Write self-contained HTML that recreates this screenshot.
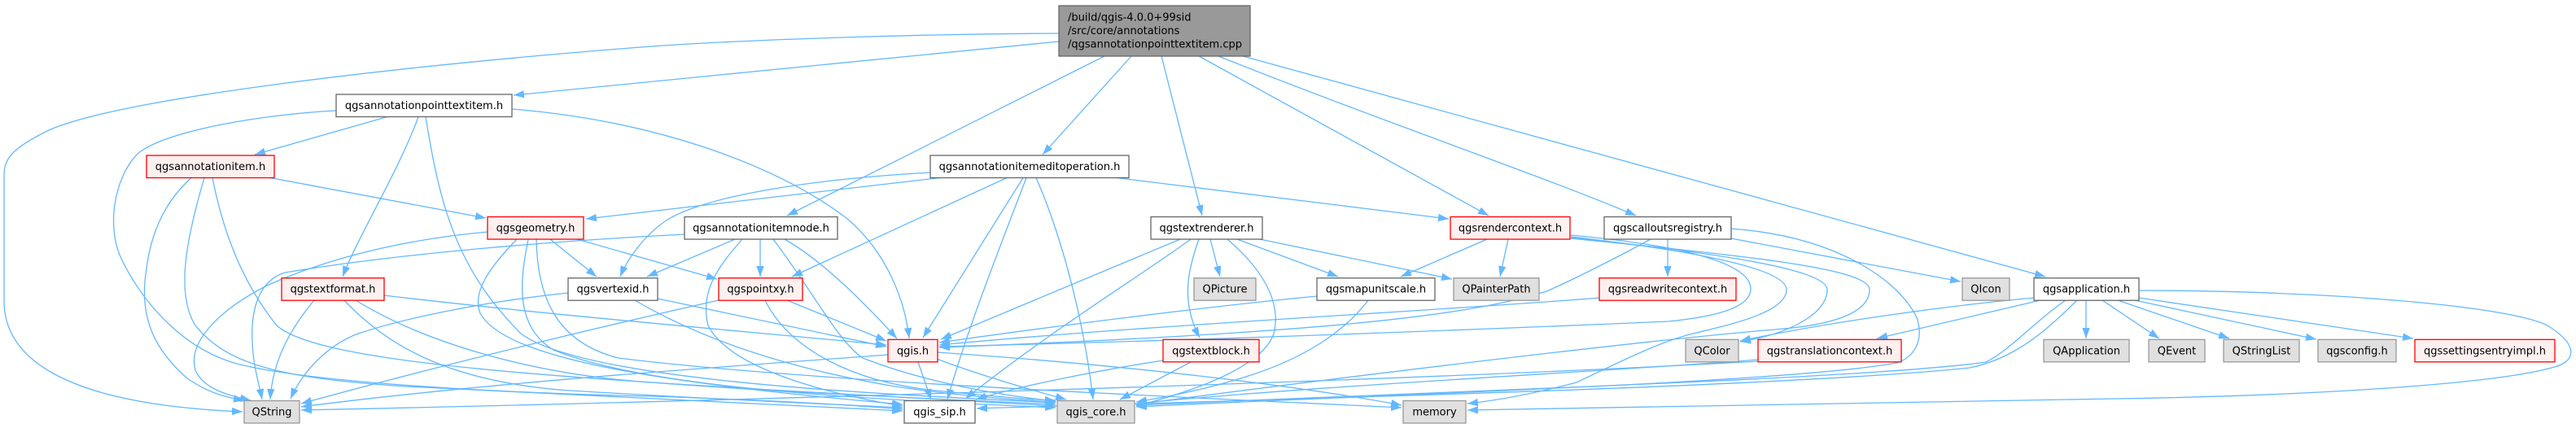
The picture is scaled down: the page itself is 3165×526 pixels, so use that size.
<!DOCTYPE html>
<html><head><meta charset="utf-8"><style>
html,body{margin:0;padding:0;background:#fff;}
svg{display:block;}
text{font-family:"DejaVu Sans","Liberation Sans",sans-serif;font-size:13px;fill:#000;}
</style></head><body>
<svg width="3165" height="526" viewBox="0 0 3165 526" xmlns="http://www.w3.org/2000/svg">
<defs>
<marker id="a" markerUnits="userSpaceOnUse" markerWidth="14" markerHeight="10" refX="13" refY="4.7" orient="auto">
<path d="M0,0 L13,4.7 L0,9.4 z" fill="#63b8ff"/>
</marker>
</defs>
<rect width="3165" height="526" fill="#fff"/>
<g fill="none" stroke="#63b8ff" stroke-width="1.3" marker-end="url(#a)">
<path d="M1301,41 C1100,42 900,50 800,57 C500,80 150,120 60,160 C15,182 5,195 5,215 L5,370 C5,450 100,498 298,506"/>
<path d="M1301,51 C1000,80 800,100 631,117"/>
<path d="M1357,69 L967,265"/>
<path d="M1390,69 L1281,190"/>
<path d="M1427,69 L1477,265"/>
<path d="M1473,69 C1560,118 1680,182 1829,265"/>
<path d="M1497,69 C1700,150 1900,218 2010,265"/>
<path d="M1527,69 L2513,340"/>
<path d="M476,143.5 L313,190"/>
<path d="M514,143.5 C490,210 440,290 421,340"/>
<path d="M523,143.5 C540,250 560,330 640,410 C720,470 1100,485 1297,495"/>
<path d="M413,136 C330,140 200,160 168,190 C140,220 130,280 150,320 C180,380 230,430 291,447 C400,475 700,485 800,487 C950,492 1050,498 1109,503"/>
<path d="M629,134 C800,148 950,200 1040,268 C1090,310 1112,370 1117,416"/>
<path d="M332,218.5 L597,268"/>
<path d="M235,218.5 C200,250 185,290 180,330 C170,390 190,430 230,465 C255,482 275,488 300,492"/>
<path d="M251,218.5 C230,290 215,360 240,400 C280,450 350,465 500,475 C800,490 1000,500 1109,505"/>
<path d="M261,218.5 C275,290 300,350 340,400 C400,455 800,470 1297,499"/>
<path d="M599,285 C520,292 420,310 330,350 C270,380 230,420 240,455 C250,478 280,486 308,492"/>
<path d="M676,294 L733,340"/>
<path d="M709,294 L881,343"/>
<path d="M635,294 C600,330 580,360 590,385 C620,440 800,470 1109,497"/>
<path d="M649,294 C640,340 630,400 680,430 C800,480 1100,492 1297,501"/>
<path d="M659,294 C660,360 680,420 760,440 C1000,470 1500,490 1722,501"/>
<path d="M841,288 C700,295 500,310 350,335 C318,345 308,380 310,420 C311,450 318,470 322,491"/>
<path d="M903,294 L795,340"/>
<path d="M934,294 L934,340"/>
<path d="M964,294 C1010,320 1060,370 1102,416"/>
<path d="M912,294 C880,330 860,360 870,400 C900,460 1050,490 1109,499"/>
<path d="M950,294 C1000,360 1030,420 1060,440 C1150,475 1250,488 1297,493"/>
<path d="M1143,212 C1000,220 870,240 820,270 C790,290 770,320 762,340"/>
<path d="M1155,218.5 L720,269"/>
<path d="M1237,218.5 L973,340"/>
<path d="M1257,218.5 L1134,415"/>
<path d="M1261,218.5 C1230,300 1190,400 1164,491"/>
<path d="M1273,218.5 C1300,280 1330,380 1343,491"/>
<path d="M1372,218.5 L1780,269"/>
<path d="M1450,294 L1156,417"/>
<path d="M1463,294 C1400,340 1300,400 1186,490"/>
<path d="M1473,294 C1460,330 1450,370 1474,415"/>
<path d="M1487,294 L1499,340"/>
<path d="M1508,294 C1550,330 1575,370 1565,410 C1550,455 1450,485 1396,499"/>
<path d="M1520,294 L1644,340"/>
<path d="M1548,294 L1784,343"/>
<path d="M1827,294 L1721,340"/>
<path d="M1853,294 L1843,340"/>
<path d="M2049,294 L2049,340"/>
<path d="M2127,293 L2409,346"/>
<path d="M2127,281 C2250,290 2330,340 2355,390 C2365,420 2350,440 2330,446 C2200,470 1700,485 1396,500"/>
<path d="M2028,294 C1980,320 1930,345 1900,358 C1800,390 1600,410 1154,427"/>
<path d="M1618,364 C1500,375 1300,400 1154,421"/>
<path d="M1681,369 C1650,410 1600,440 1540,460 C1480,480 1420,490 1396,494"/>
<path d="M1965,366 C1800,380 1400,400 1154,424"/>
<path d="M2563,369 L2563,416"/>
<path d="M2583,369 L2653,416"/>
<path d="M2602,369 L2739,416"/>
<path d="M2623,369 L2846,417"/>
<path d="M2628,366 L2965,416"/>
<path d="M2628,357 C2850,357 3080,375 3130,400 C3170,425 3165,445 3135,452 C3050,475 2800,487 2600,490 C2300,496 2000,502 1803,504"/>
<path d="M2507,369 L2306,416"/>
<path d="M2499,366 C2400,375 2250,395 2138,419"/>
<path d="M2538,369 C2500,395 2470,430 2440,445 C2300,465 1800,480 1396,498"/>
<path d="M2552,369 C2520,400 2480,440 2420,452 C2200,475 1600,490 1200,502"/>
<path d="M2160,442 C2000,455 1600,475 1396,496"/>
<path d="M2160,444 C1700,470 800,495 370,504"/>
<path d="M698,360 C600,370 500,390 440,410 C400,425 370,460 357,490"/>
<path d="M808,367 L1089,426"/>
<path d="M780,369 C850,410 950,450 1100,475 C1200,490 1280,493 1297,494"/>
<path d="M883,369 C700,410 500,460 370,496"/>
<path d="M967,369 L1089,419"/>
<path d="M940,369 C970,430 1050,470 1150,480 C1250,490 1285,492 1297,492"/>
<path d="M386,369 C360,400 335,440 332,491"/>
<path d="M423,369 C480,430 560,470 700,480 C900,492 1050,498 1109,501"/>
<path d="M437,369 C520,420 650,460 800,470 C1000,485 1200,492 1297,497"/>
<path d="M472,363 C700,390 950,410 1089,424"/>
<path d="M1091,436 C900,450 600,470 370,500"/>
<path d="M1128,445 L1144,491"/>
<path d="M1151,441 C1200,460 1270,480 1310,491"/>
<path d="M1152,433 C1400,450 1600,475 1722,498"/>
<path d="M1429,443 C1350,455 1250,475 1199,491"/>
<path d="M1463,445 L1376,491"/>
<path d="M1930,289 C2050,300 2151,320 2151,355 C2151,380 2100,390 2050,395 C1700,410 1400,420 1154,426"/>
<path d="M1930,291 C2080,308 2195,330 2195,356 C2195,385 2120,400 2080,410 C2040,420 2000,440 1937,470 C1880,485 1840,492 1803,496"/>
<path d="M1930,292 C2100,310 2245,330 2245,356 C2245,385 2200,410 2138,420"/>
<path d="M1930,293 C2150,315 2297,330 2297,356 C2297,385 2250,400 2180,405 C2000,420 1600,470 1396,497"/>
</g>
<g stroke-width="1.3">
<rect x="1301" y="7" width="235" height="62" fill="#999999" stroke="#666666"/>
<text x="1312" y="25.5">/build/qgis-4.0.0+99sid</text>
<text x="1312" y="42">/src/core/annotations</text>
<text x="1312" y="58.5">/qgsannotationpointtextitem.cpp</text>

<rect x="413" y="116" width="216" height="27.5" fill="#fff" stroke="#666666"/>
<text x="521" y="134" text-anchor="middle">qgsannotationpointtextitem.h</text>

<rect x="180" y="191" width="157" height="27.5" fill="#fff0f0" stroke="#ff0000"/>
<text x="258.5" y="209" text-anchor="middle">qgsannotationitem.h</text>
<rect x="1143" y="191" width="244" height="27.5" fill="#fff" stroke="#666666"/>
<text x="1265" y="209" text-anchor="middle">qgsannotationitemeditoperation.h</text>

<rect x="599" y="266.5" width="118" height="27.5" fill="#fff0f0" stroke="#ff0000"/>
<text x="658" y="284.5" text-anchor="middle">qgsgeometry.h</text>
<rect x="841" y="266.5" width="188" height="27.5" fill="#fff" stroke="#666666"/>
<text x="935" y="284.5" text-anchor="middle">qgsannotationitemnode.h</text>
<rect x="1414" y="266.5" width="137" height="27.5" fill="#fff" stroke="#666666"/>
<text x="1482.5" y="284.5" text-anchor="middle">qgstextrenderer.h</text>
<rect x="1782" y="266.5" width="147" height="27.5" fill="#fff0f0" stroke="#ff0000"/>
<text x="1855.5" y="284.5" text-anchor="middle">qgsrendercontext.h</text>
<rect x="1971" y="266.5" width="156" height="27.5" fill="#fff" stroke="#666666"/>
<text x="2049" y="284.5" text-anchor="middle">qgscalloutsregistry.h</text>

<rect x="346" y="341.7" width="126" height="27.5" fill="#fff0f0" stroke="#ff0000"/>
<text x="409" y="359.7" text-anchor="middle">qgstextformat.h</text>
<rect x="698" y="341.7" width="110" height="27.5" fill="#fff" stroke="#666666"/>
<text x="753" y="359.7" text-anchor="middle">qgsvertexid.h</text>
<rect x="883" y="341.7" width="103" height="27.5" fill="#fff0f0" stroke="#ff0000"/>
<text x="934.5" y="359.7" text-anchor="middle">qgspointxy.h</text>
<rect x="1467" y="341.7" width="76" height="27.5" fill="#e0e0e0" stroke="#999999"/>
<text x="1505" y="359.7" text-anchor="middle">QPicture</text>
<rect x="1618" y="341.7" width="145" height="27.5" fill="#fff" stroke="#666666"/>
<text x="1690.5" y="359.7" text-anchor="middle">qgsmapunitscale.h</text>
<rect x="1786" y="341.7" width="105" height="27.5" fill="#e0e0e0" stroke="#999999"/>
<text x="1838.5" y="359.7" text-anchor="middle">QPainterPath</text>
<rect x="1965" y="341.7" width="168" height="27.5" fill="#fff0f0" stroke="#ff0000"/>
<text x="2049" y="359.7" text-anchor="middle">qgsreadwritecontext.h</text>
<rect x="2411" y="341.7" width="58" height="27.5" fill="#e0e0e0" stroke="#999999"/>
<text x="2440" y="359.7" text-anchor="middle">QIcon</text>
<rect x="2499" y="341.7" width="129" height="27.5" fill="#fff" stroke="#666666"/>
<text x="2563.5" y="359.7" text-anchor="middle">qgsapplication.h</text>

<rect x="1091" y="417.3" width="61" height="27.5" fill="#fff0f0" stroke="#ff0000"/>
<text x="1121.5" y="435.3" text-anchor="middle">qgis.h</text>
<rect x="1429" y="417.3" width="118" height="27.5" fill="#fff0f0" stroke="#ff0000"/>
<text x="1488" y="435.3" text-anchor="middle">qgstextblock.h</text>
<rect x="2071" y="417.3" width="65" height="27.5" fill="#e0e0e0" stroke="#999999"/>
<text x="2103.5" y="435.3" text-anchor="middle">QColor</text>
<rect x="2160" y="417.3" width="176" height="27.5" fill="#fff0f0" stroke="#ff0000"/>
<text x="2248" y="435.3" text-anchor="middle">qgstranslationcontext.h</text>
<rect x="2511" y="417.3" width="105" height="27.5" fill="#e0e0e0" stroke="#999999"/>
<text x="2563.5" y="435.3" text-anchor="middle">QApplication</text>
<rect x="2640" y="417.3" width="69" height="27.5" fill="#e0e0e0" stroke="#999999"/>
<text x="2674.5" y="435.3" text-anchor="middle">QEvent</text>
<rect x="2732" y="417.3" width="93" height="27.5" fill="#e0e0e0" stroke="#999999"/>
<text x="2778.5" y="435.3" text-anchor="middle">QStringList</text>
<rect x="2848" y="417.3" width="96" height="27.5" fill="#e0e0e0" stroke="#999999"/>
<text x="2896" y="435.3" text-anchor="middle">qgsconfig.h</text>
<rect x="2967" y="417.3" width="172" height="27.5" fill="#fff0f0" stroke="#ff0000"/>
<text x="3053" y="435.3" text-anchor="middle">qgssettingsentryimpl.h</text>

<rect x="300" y="492.5" width="68" height="27.5" fill="#e0e0e0" stroke="#999999"/>
<text x="334" y="510.5" text-anchor="middle">QString</text>
<rect x="1111" y="492.5" width="87" height="27.5" fill="#fff" stroke="#666666"/>
<text x="1154.5" y="510.5" text-anchor="middle">qgis_sip.h</text>
<rect x="1299" y="492.5" width="95" height="27.5" fill="#e0e0e0" stroke="#999999"/>
<text x="1346.5" y="510.5" text-anchor="middle">qgis_core.h</text>
<rect x="1724" y="492.5" width="77" height="27.5" fill="#e0e0e0" stroke="#999999"/>
<text x="1762.5" y="510.5" text-anchor="middle">memory</text>
</g>
</svg>
</body></html>
